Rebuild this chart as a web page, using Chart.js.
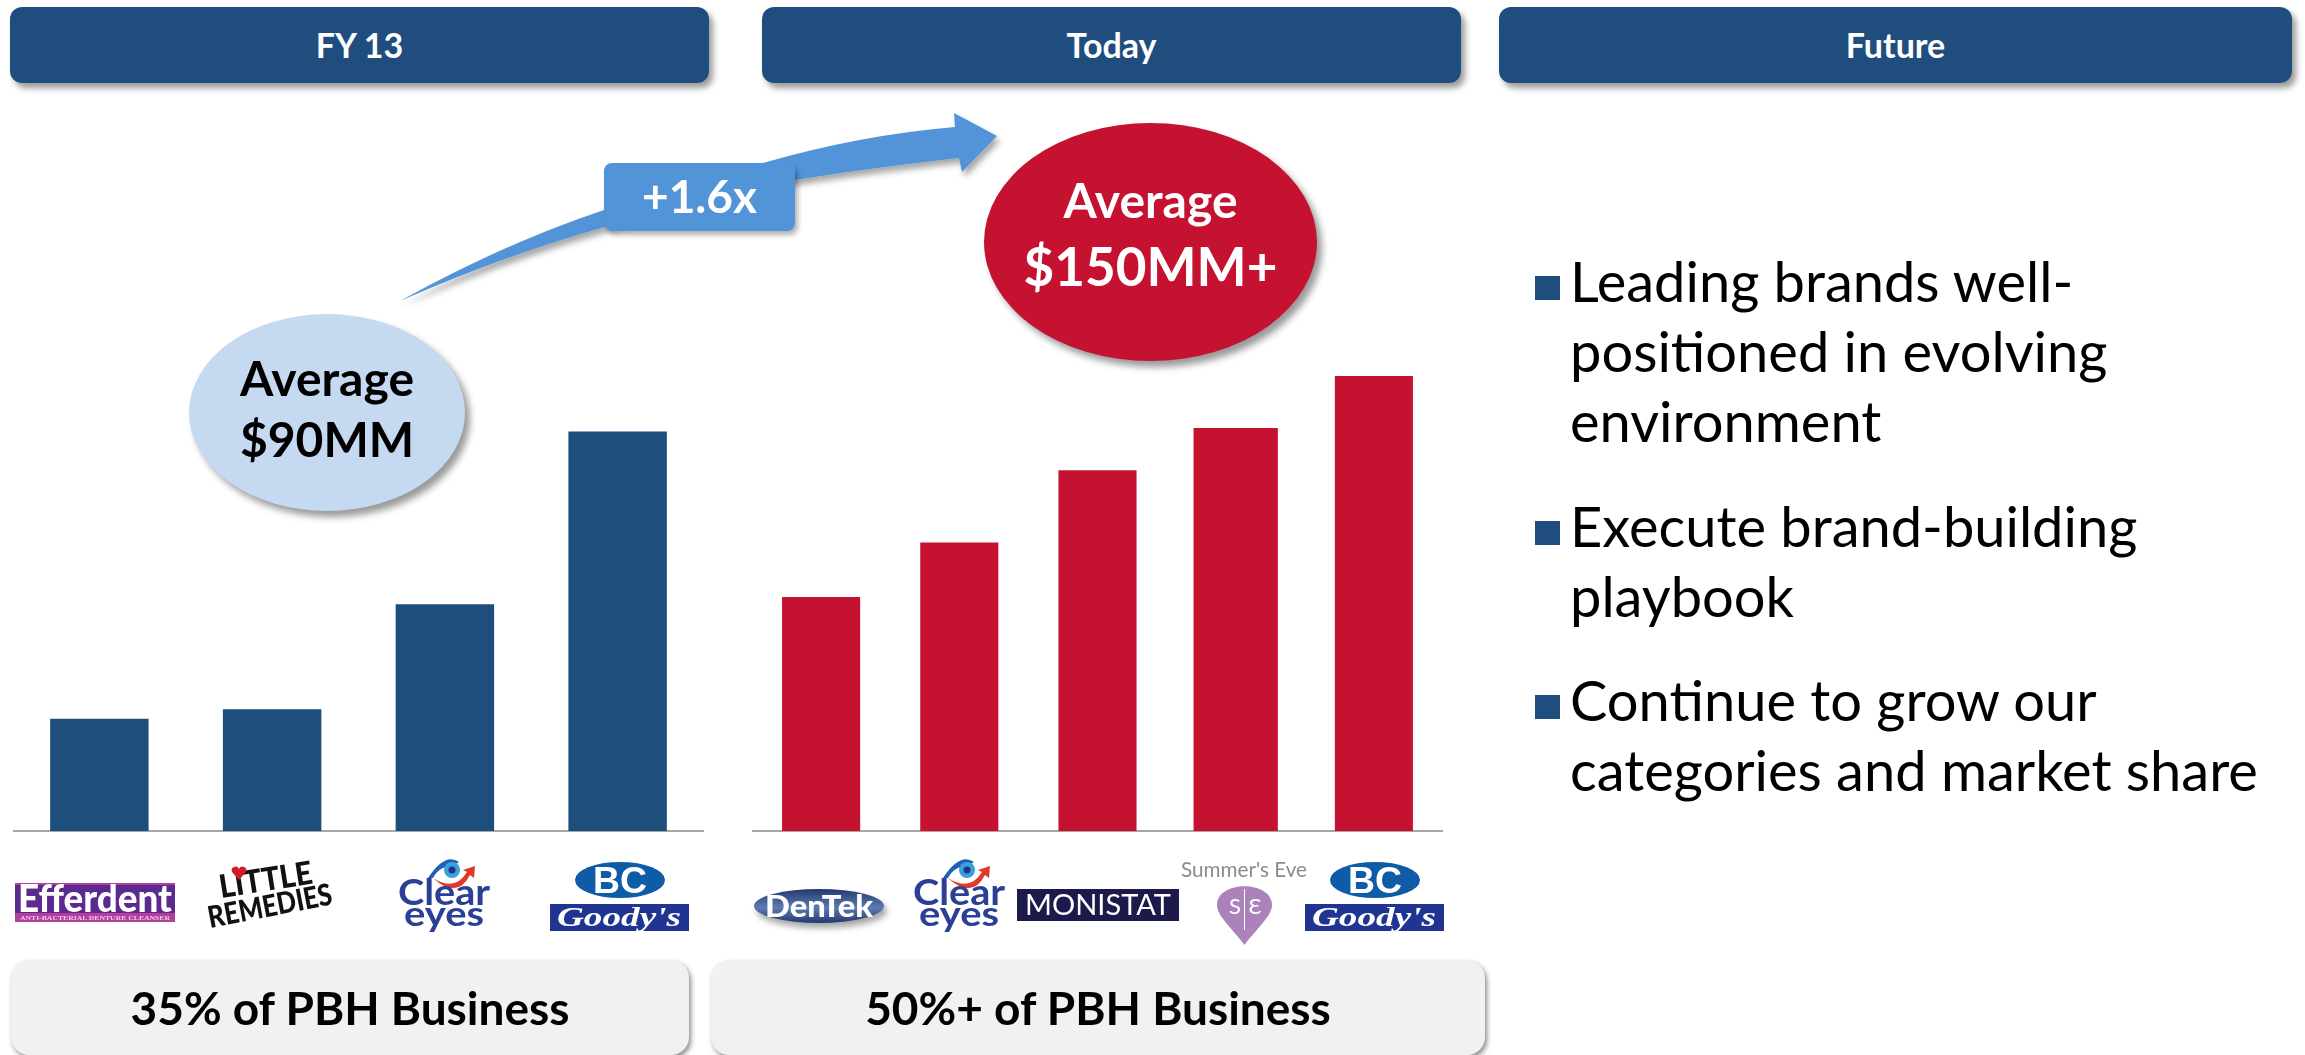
<!DOCTYPE html>
<html><head><meta charset="utf-8">
<script src="https://cdn.jsdelivr.net/npm/chart.js@4"></script>
<style>
html,body{margin:0;padding:0;background:#fff;width:2305px;height:1055px;overflow:hidden;font-family:Lato,"Noto Sans",sans-serif}
.abs{position:absolute}
canvas{position:absolute}
.hdr{position:absolute;top:7px;height:76px;background:#1f4e7e;border-radius:12px;box-shadow:4px 5px 6px rgba(0,0,0,.4);color:#fff;font-size:34px;font-weight:700;display:flex;align-items:center;justify-content:center;padding-bottom:2px;box-sizing:border-box}
.pill{position:absolute;top:960px;height:95px;background:#f1f1f1;border-radius:18px;box-shadow:2px 3px 5px rgba(0,0,0,.45);color:#000;font-size:46px;font-weight:700;display:flex;align-items:center;justify-content:center}
.ell{position:absolute;border-radius:50%;display:flex;flex-direction:column;align-items:center;justify-content:center;font-weight:700;box-shadow:5px 6px 7px rgba(0,0,0,.4);box-sizing:border-box}
.bul{position:absolute;left:1570px;font-size:56px;color:#000;line-height:70px;white-space:nowrap}
.sq{position:absolute;left:1535px;width:25px;height:24px;background:#1f4e7e}
svg{position:absolute;left:0;top:0}
</style></head><body>
<canvas id="c1" class="abs"></canvas>
<canvas id="c2" class="abs"></canvas>
<div class="hdr" style="left:10px;width:699px">FY 13</div>
<div class="hdr" style="left:762px;width:699px">Today</div>
<div class="hdr" style="left:1499px;width:793px">Future</div>
<svg id="art" width="2305" height="1055" viewBox="0 0 2305 1055"></svg>
<div class="ell" style="left:189px;top:314px;width:276px;height:197px;background:#c5daf1;color:#000;font-size:48px;line-height:61px;padding-bottom:9px"><span>Average</span><span>$90MM</span></div>
<div class="ell" style="left:984px;top:123px;width:333px;height:238px;background:#c41230;color:#fff;padding-bottom:18px"><span style="font-size:48px;line-height:66px">Average</span><span style="font-size:53px;line-height:66px">$150MM+</span></div>
<div class="abs" style="left:604px;top:163px;width:191px;height:68px;background:#5294d8;border-radius:8px;box-shadow:3px 4px 5px rgba(0,0,0,.3);color:#fff;font-size:46px;font-weight:700;display:flex;align-items:center;justify-content:center;padding-bottom:4px;box-sizing:border-box">+1.6x</div>
<div class="sq" style="top:276px"></div>
<div class="bul" style="top:246px">Leading brands well-<br>positioned in evolving<br>environment</div>
<div class="sq" style="top:521px"></div>
<div class="bul" style="top:491px">Execute brand-building<br>playbook</div>
<div class="sq" style="top:695px"></div>
<div class="bul" style="top:665px">Continue to grow our<br>categories and market share</div>
<div class="pill" style="left:11px;width:678px">35% of PBH Business</div>
<div class="pill" style="left:711px;width:774px">50%+ of PBH Business</div>
<script>
const brandsFY13 = ["Efferdent", "Little Remedies", "Clear Eyes", "BC / Goody's"];
const valuesFY13 = [46.5, 50.5, 94, 165.5];
const brandsToday = ["DenTek", "Clear Eyes", "Monistat", "Summer's Eve", "BC / Goody's"];
const valuesToday = [97, 119.5, 149.5, null, 188.5];
const valuesTodayWide = [null, null, null, 167, null];
const navy = "#1d4e7c", red = "#c41230", axisGray = "#a6a6a6";

function baseOptions() {
  return {
    responsive: false, animation: false, events: [],
    layout: { padding: 0 },
    plugins: { legend: { display: false }, tooltip: { enabled: false }, title: { display: false } },
    scales: {
      x: { grid: { display: false }, ticks: { display: false }, border: { display: true, color: axisGray, width: 2 } },
      y: { display: false, min: 0, max: 300, grid: { display: false } }
    }
  };
}
function place(id, l, t, w, h) {
  const c = document.getElementById(id);
  c.width = w; c.height = h;
  c.style.left = l + "px"; c.style.top = t + "px";
  c.style.width = w + "px"; c.style.height = h + "px";
  return c;
}
new Chart(place("c1", 13, 107, 691, 732), {
  type: "bar",
  data: { labels: brandsFY13, datasets: [{ data: valuesFY13, backgroundColor: navy, categoryPercentage: 1, barPercentage: 0.57 }] },
  options: baseOptions()
});
new Chart(place("c2", 752, 107, 691, 732), {
  type: "bar",
  data: { labels: brandsToday, datasets: [
    { data: valuesToday, backgroundColor: red, categoryPercentage: 1, barPercentage: 0.565, grouped: false },
    { data: valuesTodayWide, backgroundColor: red, categoryPercentage: 1, barPercentage: 0.61, grouped: false }
  ] },
  options: baseOptions()
});

function clearEyes(x) {
  return `<g transform="translate(${x},0)">
    <path d="M31 878 Q48 852 62 862 L56 866 Q42 866 36 878Z" fill="#1f5fb4"/>
    <path d="M36 878 Q58 892 70 872 L66 870 L78 866 L77 878 L73 875 Q60 900 36 878Z" fill="#e0392b"/>
    <circle cx="55" cy="870" r="8" fill="#3aa0dc"/><circle cx="55" cy="870" r="3.500" fill="#27308a"/>
    <text x="47" y="905" text-anchor="middle" font-family="Lato" font-weight="700" font-size="36" fill="#2b3f94" textLength="92" lengthAdjust="spacingAndGlyphs">Clear</text>
    <text x="47" y="926" text-anchor="middle" font-family="Lato" font-weight="700" font-size="34" fill="#2b3f94" textLength="80" lengthAdjust="spacingAndGlyphs">eyes</text></g>`;
}
function bcGoodys(x, oval) {
  return `<ellipse cx="${x+oval}" cy="880" rx="45" ry="18" fill="#0e5ba8"/>
    <text x="${x+oval}" y="893" text-anchor="middle" font-family="Liberation Sans" font-weight="700" font-size="36" fill="#fff" textLength="54" lengthAdjust="spacingAndGlyphs">BC</text>
    <rect x="${x}" y="904" width="139" height="27" fill="#1f3591"/>
    <text x="${x+69}" y="926" text-anchor="middle" font-family="Liberation Serif" font-style="italic" font-weight="700" font-size="27" fill="#fff" textLength="124" lengthAdjust="spacingAndGlyphs">Goody's</text>`;
}
document.getElementById("art").innerHTML = `
  <defs>
    <filter id="sh" x="-10%" y="-20%" width="130%" height="150%"><feDropShadow dx="3" dy="5" stdDeviation="3" flood-color="#000" flood-opacity=".35"/></filter>
    <linearGradient id="dt" x1="0" y1="0" x2="0" y2="1"><stop offset="0" stop-color="#22386f"/><stop offset=".55" stop-color="#5e7bb0"/><stop offset="1" stop-color="#22386f"/></linearGradient>
  </defs>
  <path d="M400 301 Q505 243 604 210 L763 163 Q860 135 955 127 L954 113 L997 136 L962 172 L959 158 Q870 168 795 180 L605 227 Q505 255 400 301Z" fill="#5294d8" filter="url(#sh)"/>
  <rect x="15" y="883" width="160" height="39" fill="#b13f9b"/><rect x="15" y="885" width="160" height="28" fill="#5a2a8e"/>
  <text x="95" y="912" text-anchor="middle" font-family="Lato" font-weight="900" font-size="37" fill="#fff" textLength="154" lengthAdjust="spacingAndGlyphs">Efferdent</text>
  <text x="95" y="920" text-anchor="middle" font-family="Liberation Serif" font-weight="700" font-size="7" fill="#f3cbe6" textLength="150" lengthAdjust="spacingAndGlyphs">ANTI-BACTERIAL DENTURE CLEANSER</text>
  <text transform="translate(221,898) rotate(-9)" font-family="Lato" font-weight="900" font-size="32" fill="#111" textLength="94" lengthAdjust="spacingAndGlyphs">LITTLE</text>
  <path d="M239 880 l-7 -8 a3.500 3.500 0 0 1 7 -3 a3.500 3.500 0 0 1 7 3z" fill="#d01c2a"/>
  <text transform="translate(210,928) rotate(-11)" font-family="Lato" font-weight="900" font-size="30" fill="#111" textLength="126" lengthAdjust="spacingAndGlyphs">REMEDIES</text>
  ${clearEyes(397)}
  ${bcGoodys(550, 70)}
  <ellipse cx="819" cy="906" rx="65" ry="17" fill="url(#dt)" filter="url(#sh)"/>
  <text x="819" y="917" text-anchor="middle" font-family="Lato" font-weight="900" font-size="30" fill="#fff" textLength="108" lengthAdjust="spacingAndGlyphs">DenTek</text>
  ${clearEyes(912)}
  <rect x="1017" y="889" width="162" height="32" fill="#1b1a4b"/>
  <text x="1098" y="915" text-anchor="middle" font-family="Lato" font-size="28" fill="#fff" textLength="146" lengthAdjust="spacingAndGlyphs">MONISTAT</text>
  <text x="1244" y="877" text-anchor="middle" font-family="Lato" font-size="21" fill="#8c8c84" textLength="126" lengthAdjust="spacingAndGlyphs">Summer's Eve</text>
  <path d="M1244.500 945 C1232 928 1217 916 1217 905 C1217 880 1272 880 1272 905 C1272 916 1257 928 1244.500 945Z" fill="#ab82b9"/>
  <text x="1235" y="914" text-anchor="middle" font-family="Lato" font-size="22" fill="#fff">S</text>
  <text x="1255" y="914" text-anchor="middle" font-family="Lato" font-size="22" fill="#fff">Ɛ</text>
  <line x1="1244.500" y1="889" x2="1244.500" y2="930" stroke="#fff" stroke-width="1"/>
  ${bcGoodys(1305, 70)}
`;
</script>
</body></html>
